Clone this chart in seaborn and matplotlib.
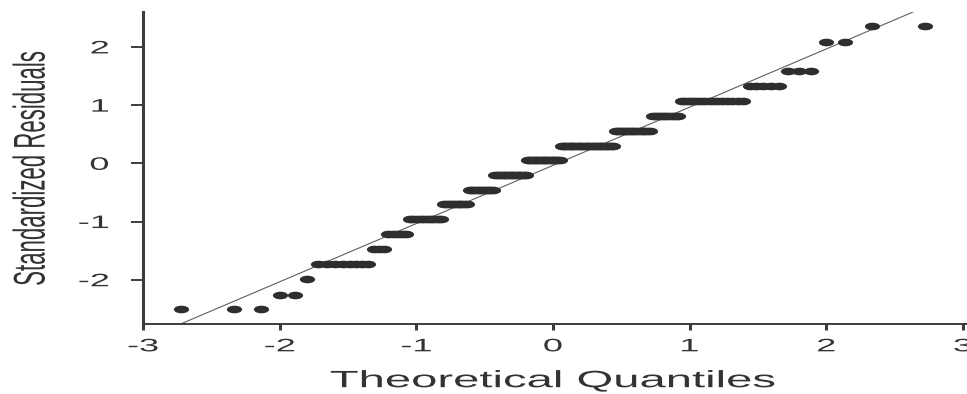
import statistics

import matplotlib
matplotlib.use("Agg")
import matplotlib.pyplot as plt
import pandas as pd
import seaborn as sns
from matplotlib import patheffects
from matplotlib.markers import MarkerStyle
from matplotlib.transforms import Affine2D

# standardized residuals: the tied values and how many observations sit on each
resid_levels = [-2.50, -2.26, -1.98, -1.73, -1.47, -1.22, -0.96, -0.70, -0.46, -0.20,
                0.06, 0.30, 0.56, 0.81, 1.07, 1.33, 1.59, 2.09, 2.36]
resid_counts = [3, 2, 1, 8, 3, 5, 10, 9, 10, 14, 15, 23, 14, 9, 15, 5, 3, 2, 2]

x_ticks = [-3, -2, -1, 0, 1, 2, 3]
y_ticks = [-2, -1, 0, 1, 2]

# reference line
line_intercept = -0.035
line_slope = 1.0

# the source picture is stretched sideways, so text and dots come out about 2x wide
STRETCH = 2.0


class Widen(patheffects.AbstractPathEffect):
    """Stretch drawn text horizontally around its centre (or its right edge)."""

    def __init__(self, sx=STRETCH, anchor="center"):
        super().__init__()
        self.sx = sx
        self.anchor = anchor

    def draw_path(self, renderer, gc, tpath, affine, rgbFace=None):
        if len(tpath.vertices) == 0:
            renderer.draw_path(gc, tpath, affine, rgbFace)
            return
        ext = tpath.transformed(affine).get_extents()
        x0 = ext.x1 if self.anchor == "right" else (ext.x0 + ext.x1) / 2
        widen = Affine2D().translate(-x0, 0).scale(self.sx, 1).translate(x0, 0)
        renderer.draw_path(gc, tpath, affine + widen, rgbFace)


resid = []
for level, count in zip(resid_levels, resid_counts):
    resid += [level] * count
n = len(resid)
# theoretical normal quantiles of the sorted sample, (i - 0.5) / n as in qqnorm
nd = statistics.NormalDist()
theo = [nd.inv_cdf((i + 0.5) / n) for i in range(n)]
df = pd.DataFrame({"theoretical": theo, "resid": resid})

sns.set_style("ticks")
plt.rcParams["font.family"] = ["Liberation Sans", "DejaVu Sans"]
plt.rcParams["axes.unicode_minus"] = False

fig = plt.figure(figsize=(9.67, 3.94), dpi=100)
ax = fig.add_axes([143 / 967, 70 / 394, 824 / 967, 312 / 394])

ax.axline((0, line_intercept), slope=line_slope, color="#606060", lw=0.8, zorder=1)
sns.scatterplot(data=df, x="theoretical", y="resid", ax=ax,
                marker=MarkerStyle("o", transform=Affine2D().scale(STRETCH, 1)),
                s=30, color="#2e2e2e", linewidth=0, zorder=2)

ax.set_xlim(-3, 3.03)
ax.set_ylim(-2.76, 2.60)
ax.set_xticks(x_ticks)
ax.set_yticks(y_ticks)

sns.despine(ax=ax)
ax.spines["left"].set_linewidth(2.2)
ax.spines["bottom"].set_linewidth(1.4)
for sp in ax.spines.values():
    sp.set_color("#3c3c3c")

ax.tick_params(axis="x", length=4.3, width=2.2, pad=6, labelsize=13,
               color="#3c3c3c", labelcolor="#333333")
ax.tick_params(axis="y", length=8.6, width=1.4, pad=16, labelsize=13,
               color="#3c3c3c", labelcolor="#333333")
for lab in ax.get_xticklabels():
    lab.set_path_effects([Widen()])
for lab in ax.get_yticklabels():
    lab.set_path_effects([Widen(anchor="right")])

ax.set_xlabel("Theoretical Quantiles", fontsize=17, color="#333333",
              path_effects=[Widen()])
ax.set_ylabel("Standardized Residuals", fontsize=16, color="#333333",
              path_effects=[Widen()])
ax.xaxis.set_label_coords(0.4976, -0.148)
ax.yaxis.set_label_coords(-0.123, 0.5)

fig.savefig("out.png", dpi=100)
